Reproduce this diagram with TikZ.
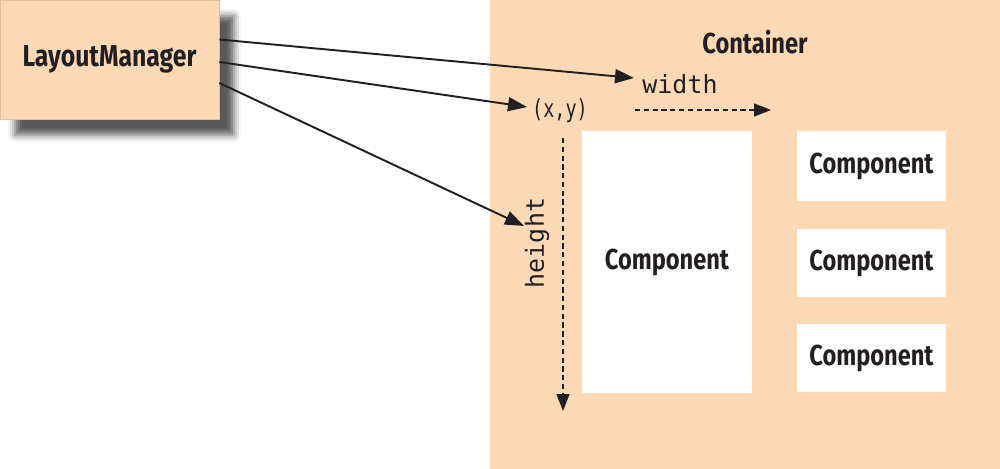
\documentclass[tikz,border=0pt]{standalone}
\usepackage{fontspec}
\setmainfont{Fira Sans}
\newfontfamily\condbold[FakeStretch=0.82]{Fira Sans}
\newfontfamily\monof{DejaVu Sans Mono}
\newfontfamily\monon[FakeStretch=0.74]{DejaVu Sans Mono}
\usetikzlibrary{arrows.meta,shadows.blur}
\definecolor{peach}{RGB}{253,218,181}
\definecolor{peachedge}{RGB}{232,188,146}
\definecolor{ink}{RGB}{35,31,32}
\tikzset{
  boldlabel/.style={font=\condbold\bfseries\fontsize{16.4}{18}\selectfont, text=ink},
  monolabel/.style={font=\monof\fontsize{14.2}{16}\selectfont, text=ink, inner sep=0pt},
  compbox/.style={fill=white, draw=none},
  link/.style={draw=ink, line width=1.1pt, -{Triangle[length=0.38cm,width=0.28cm]}},
  dimline/.style={draw=ink, line width=0.9pt, dash pattern=on 3pt off 2pt, -{Triangle[length=0.34cm,width=0.26cm]}},
}
\begin{document}
\begin{tikzpicture}[x=0.02cm,y=-0.02cm]
\useasboundingbox (0,0) rectangle (1000,469);
% container
\fill[peach] (490,0) rectangle (1000,469);
\node[boldlabel] (cont) at (755,42) {Container};
% layout manager
\node[fill=peach, draw=peachedge, line width=0.4pt, minimum width=219*0.02cm, minimum height=119*0.02cm,
  blur shadow={shadow xshift=0.3cm, shadow yshift=-0.32cm, shadow blur radius=0.14cm, shadow opacity=65},
  boldlabel, font=\condbold\bfseries\fontsize{17.2}{19}\selectfont] (lm) at (109.5,59.5) {LayoutManager};
% components
\node[compbox, minimum width=170*0.02cm, minimum height=262*0.02cm] (c1) at (667,262) {};
\node[boldlabel] at (c1.center) {Component};
\node[compbox, minimum width=149*0.02cm, minimum height=70*0.02cm] (c2) at (871.5,166) {};
\node[boldlabel] at (c2.center) {Component};
\node[compbox, minimum width=149*0.02cm, minimum height=68*0.02cm] (c3) at (871.5,263) {};
\node[boldlabel] at (c3.center) {Component};
\node[compbox, minimum width=149*0.02cm, minimum height=68*0.02cm] (c4) at (871.5,358) {};
\node[boldlabel] at (c4.center) {Component};
% labels
\node[monolabel, font=\monon\fontsize{14.2}{16}\selectfont] (xy) at (560,111) {(x,y)};
\node[monolabel] (wd) at (680,84) {width};
\node[monolabel, rotate=90] (ht) at (537,243) {height};
% dimension arrows
\coordinate (wds) at (635,110);
\coordinate (wde) at (771,110);
\draw[dimline] (wds) -- (wde);
\coordinate (hts) at (563,138);
\coordinate (hte) at (563,411);
\draw[dimline] (hts) -- (hte);
% links
\coordinate (t1) at (634,78);
\coordinate (t2) at (527,107);
\coordinate (t3) at (524,226);
\draw[link] ([yshift=0.4cm]lm.east) -- (t1);
\draw[link] ([yshift=-0.05cm]lm.east) -- (t2);
\draw[link] ([yshift=-0.47cm]lm.east) -- (t3);
\end{tikzpicture}
\end{document}
